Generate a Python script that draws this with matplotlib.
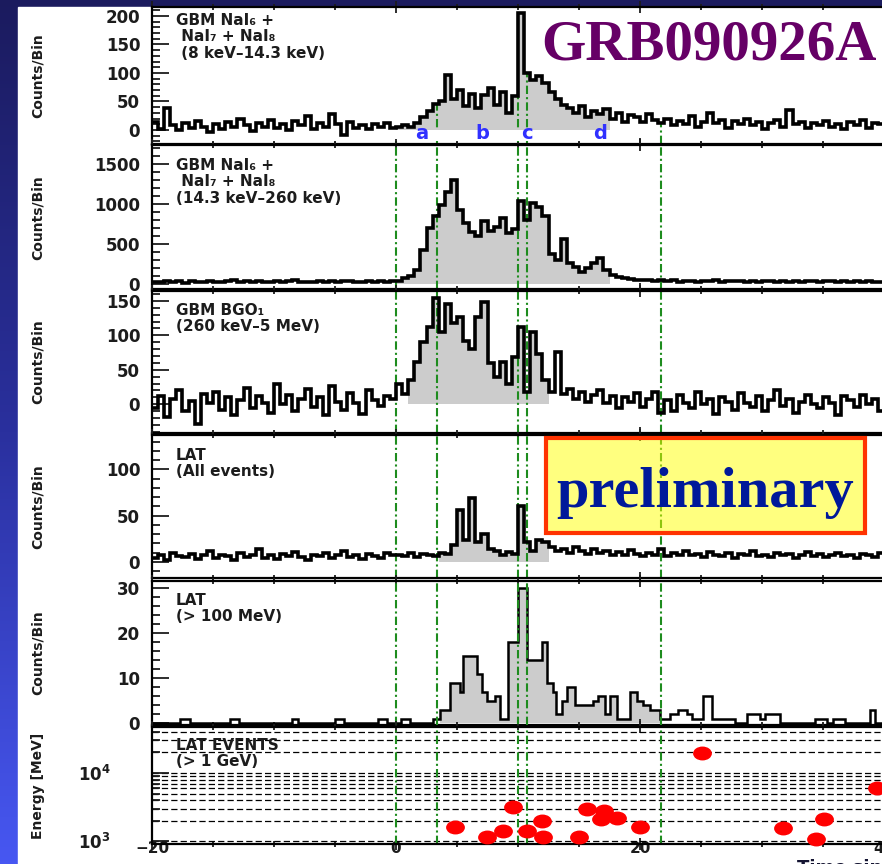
"""GRB090926A: GBM + LAT light curves, slide-style recreation."""
import numpy as np
import matplotlib
matplotlib.use("Agg")
import matplotlib.pyplot as plt
from matplotlib.colors import LinearSegmentedColormap
from matplotlib.patches import Rectangle
from matplotlib.path import Path
from matplotlib.ticker import MultipleLocator, LogLocator, NullFormatter
from matplotlib.transforms import Affine2D

# ----------------------------------------------------------- data
# GBM / LAT-all light curves: regular 0.5 s bins starting at -20 s
bin_start, bin_width = -20.0, 0.5

nai_lo = [  # NaI 8-14.3 keV
    14, 2, 38, 8, 0, 12, 4, 16, 6, -4, 10, 2, 14, 5, 20, 8, -2, 12, 6, 18,
    4, 10, 0, 16, 8, 24, 2, 12, 6, 28, 10, -8, 14, 4, 8, 2, 10, 6, 12, 4,
    5, 8, 6, 12, 22, 34, 45, 50, 96, 55, 70, 42, 64, 38, 62, 74, 44, 66, 30, 60,
    205, 100, 88, 95, 82, 66, 55, 44, 38, 30, 42, 22, 34, 28, 36, 20, 30, 14, 26, 22,
    14, 28, 18, 12,
    20, 8, 16, 10, 24, 6, 14, 30, 12, 18, 4, 16, 10, 20, 8, 14, 2, 12, 18, 6,
    35, 10, 14, 4, 12, 8, 16, 6, 10, 2, 14, 8, 18, 4, 12, 10, 16,
]
nai_hi = [  # NaI 14.3-260 keV
    30, 22, 38, 26, 34, 18, 40, 28, 24, 36, 30, 20, 32, 44, 26, 34, 22, 38, 28, 30,
    36, 24, 32, 48, 26, 30, 20, 34, 28, 40, 24, 32, 36, 22, 30, 38, 26, 34, 28, 32,
    40, 80, 95, 180, 420, 700, 850, 990, 1150, 1300,
    930, 760, 650, 600, 790, 660, 720, 830, 640, 690,
    1040, 800, 1010, 960, 850, 380, 300, 560, 260, 210,
    150, 200, 260, 320, 180, 110, 90, 70, 60, 55,
    48, 52, 40, 44,
    38, 46, 30, 42, 36, 28, 40, 34, 44, 26, 36, 32, 40, 28, 38, 30, 34, 42, 26, 36,
    30, 38, 24, 34, 40, 28, 32, 36, 26, 38, 30, 34, 28, 40, 30, 26, 34,
]
bgo = [  # BGO 260 keV-5 MeV
    -5, 12, -18, 8, 20, -10, 5, -28, 15, 2, 18, -8, 10, -15, 6, 24, -6, 12, 2, -12,
    30, 0, 14, -10, 8, 22, -4, 10, -16, 26, 4, -8, 16, 2, -14, 20, 6, -2, 12, 8,
    30, 15, 35, 62, 90, 112, 154, 105, 146, 118,
    127, 92, 80, 127, 148, 60, 40, 62, 30, 68,
    112, 18, 105, 73, 35, 18, 76, 15, 22, 8,
    18, 4, 14, 20, 2, 12, -6, 10, 4, 16,
    -4, 8, 18, -12,
    6, -10, 14, 2, -6, 18, 0, 8, -14, 10, 4, -8, 16, 2, -4, 12, -10, 6, 20, -2,
    8, -12, 4, 14, 0, -6, 10, 2, -16, 12, 6, -4, 14, 0, 8, -10, 4,
]
lat_all = [  # LAT, all events
    4, 8, 2, 10, 6, 5, 9, 3, 7, 12, 4, 8, 6, 2, 10, 5, 8, 14, 4, 7,
    3, 9, 6, 11, 5, 2, 8, 6, 10, 4, 7, 12, 5, 8, 3, 9, 6, 4, 10, 7,
    8, 6, 10, 5, 9, 7, 6, 10, 9, 18,
    56, 24, 69, 22, 30, 14, 12, 8, 11, 9,
    60, 22, 12, 24, 22, 16, 12, 14, 10, 16,
    12, 9, 14, 10, 12, 8, 11, 7, 13, 9,
    6, 10, 8, 14,
    6, 10, 8, 12, 7, 9, 5, 11, 8, 6, 10, 4, 9, 7, 12, 6, 8, 5, 10, 7,
    9, 4, 8, 11, 6, 9, 5, 7, 10, 6, 8, 4, 9, 7, 5, 10, 8,
]

# LAT > 100 MeV histogram (irregular bins)
lat_hi_edges = [
    -20, -17.7, -16.9, -13.6, -12.9, -8.5, -8.0, -5.0, -4.3, -1.5,
    -0.7, 0.4, 1.15, 3.0, 3.6, 4.43, 5.25, 5.46, 6.61, 7.02,
    7.43, 8.11, 8.52, 9.21, 10.03, 10.71, 11.94, 12.35, 12.9, 13.1,
    13.6, 14.0, 14.67, 16.17, 16.58, 17.13, 17.54, 18.09, 19.18, 19.78,
    20.27, 20.82, 21.64, 22.46, 23.14, 23.83, 24.25, 25.14, 25.87, 27.79,
    28.74, 29.84, 30.25, 31.48, 34.34, 35.3, 35.85, 36.8, 38.85, 39.26, 41.0,
]
lat_hi_counts = [
    0, 1, 0, 1, 0, 1, 0, 1, 0, 1,
    0, 1, 0, 1, 3, 9, 7, 15, 11, 7,
    5, 6, 1, 18, 30, 14, 18, 9, 7, 2,
    5, 8, 4, 5, 6, 2, 6, 1, 7, 5,
    4, 3, 1, 2, 3, 2, 1, 6, 1, 0,
    2, 1, 2, 0, 1, 0, 1, 0, 3, 0,
]

# LAT events > 1 GeV
ev_time = [4.84, 7.49, 8.8, 9.56, 10.71, 11.94, 12.08, 15.03, 15.63, 17.05,
           16.78, 18.09, 20.0, 25.1, 31.75, 34.4, 35.1, 39.4]
ev_energy = [1600, 1170, 1415, 3210, 1415, 1980, 1170, 1170, 2940, 2800,
             2100, 2220, 1600, 19400, 1550, 1070, 2120, 6100]

# time intervals a-d and shaded (burst) windows per panel
interval_edges = [0.0, 3.4, 10.0, 10.7, 21.7]
interval_names = ["a", "b", "c", "d"]
interval_label_t = [2.1, 7.1, 10.7, 16.7]
fill_windows = [(0.0, 17.5), (0.0, 17.5), (1.0, 12.5), (3.5, 12.5), (3.6, 21.7)]

panel_text = [
    "GBM NaI\u2086 +\n NaI\u2087 + NaI\u2088\n (8 keV\u201314.3 keV)",
    "GBM NaI\u2086 +\n NaI\u2087 + NaI\u2088\n(14.3 keV\u2013260 keV)",
    "GBM BGO\u2081\n(260 keV\u20135 MeV)",
    "LAT\n(All events)",
    "LAT\n(> 100 MeV)",
    "LAT EVENTS\n(> 1 GeV)",
]
panel_text_top = [13, 158, 303, 448, 593, 738]

# ----------------------------------------------------------- layout
W, H = 882, 864
X0_PX, PX_PER_S = 152, 12.2
XLIM = (-20, 41)
panels_px = [(7, 144), (145.5, 289), (290.7, 433.3), (435, 577.7), (580.5, 725), (727, 844)]
ylims = [(-24.6, 215.8), (-62.7, 1736), (-42.1, 164.8), (-17.0, 137.1), (-0.44, 31.7), (913, 47100)]
ymajor = [50, 500, 50, 50, 10]
yminor = [10, 100, 10, 10, 2]

GREEN = "#1e8c1e"
GRAY = "#cccccc"
INK = "#1c1c1c"
DASHDOT = (0, (4, 1.5, 1, 1.5))

plt.rcParams["font.family"] = ["DejaVu Sans"]
plt.rcParams["font.weight"] = "bold"
plt.rcParams["mathtext.default"] = "regular"

fig = plt.figure(figsize=(W / 100, H / 100), dpi=100)

# slide background: blue gradient with a white sheet
bg = fig.add_axes([0, 0, 1, 1], zorder=-10)
cmap = LinearSegmentedColormap.from_list("slide", ["#1b1b5e", "#2a309e", "#4757f2"])
bg.imshow(np.linspace(0, 1, 256).reshape(-1, 1), cmap=cmap, aspect="auto",
          extent=[0, 1, 0, 1], origin="upper")
bg.add_patch(Rectangle((18 / W, 0), 1, 1 - 7 / H, color="white"))
bg.set_xlim(0, 1); bg.set_ylim(0, 1); bg.axis("off")


def fig_xy(x, y):
    return x / W, 1 - y / H


axes = []
for (ytop, ybot) in panels_px:
    ax = fig.add_axes([X0_PX / W, 1 - ybot / H, (XLIM[1] - XLIM[0]) * PX_PER_S / W,
                       (ybot - ytop) / H])
    ax.set_xlim(*XLIM)
    for s in ax.spines.values():
        s.set_linewidth(1.6)
    ax.xaxis.set_major_locator(MultipleLocator(20))
    ax.xaxis.set_minor_locator(MultipleLocator(5))
    ax.tick_params(axis="x", which="both", direction="inout", top=True, bottom=True,
                   labelbottom=False, width=1.3, colors=INK)
    ax.tick_params(axis="x", which="major", length=8)
    ax.tick_params(axis="x", which="minor", length=5)
    ax.tick_params(axis="y", which="both", direction="in", left=True, right=False,
                   width=1.3, labelsize=12, pad=8.5, colors=INK)
    ax.tick_params(axis="y", which="major", length=12)
    ax.tick_params(axis="y", which="minor", length=6)
    axes.append(ax)

# ---- binned light curves (panels 1-4)
curves = [nai_lo, nai_hi, bgo, lat_all]
for i, vals in enumerate(curves):
    ax = axes[i]
    vals = np.asarray(vals, dtype=float)
    edges = bin_start + bin_width * np.arange(len(vals) + 1)
    centres = 0.5 * (edges[:-1] + edges[1:])
    lo, hi = fill_windows[i]
    shade = np.where((centres > lo) & (centres < hi), np.clip(vals, 0, None), 0)
    ax.stairs(shade, edges, fill=True, color=GRAY, lw=0, zorder=1)
    ax.stairs(vals, edges, baseline=None, color="black", lw=2.6, zorder=3)
    ax.set_ylim(*ylims[i])
    ax.yaxis.set_major_locator(MultipleLocator(ymajor[i]))
    ax.yaxis.set_minor_locator(MultipleLocator(yminor[i]))
    ax.set_yticks([v for v in ax.get_yticks() if 0 <= v <= ylims[i][1]])
    ax.set_ylim(*ylims[i])

    if i == 0:
        # intervals: lines rise to the light curve, letters on a white strip
        for b in interval_edges:
            k = int(round((b - bin_start) / bin_width - 1e-6))
            top = min(vals[k - 1], vals[k])
            ax.vlines(b, ylims[0][0], top, colors=GREEN, lw=1.5,
                      linestyles=DASHDOT, zorder=2.5)
        ax.fill_between([lo - 0.2, hi], ylims[0][0] + 6, 0.5, color="white", lw=0, zorder=3.5)
        for name, tx in zip(interval_names, interval_label_t):
            ax.text(tx, -6, name, color="#3030ff", fontsize=14, ha="center",
                    va="center", zorder=4)
    else:
        for b in interval_edges:
            ax.axvline(b, color=GREEN, lw=1.5, ls=DASHDOT, zorder=2.5)

# ---- LAT > 100 MeV histogram (panel 5)
ax = axes[4]
e = np.asarray(lat_hi_edges)
c = np.asarray(lat_hi_counts, dtype=float)
lo, hi = fill_windows[4]
inside = (e[:-1] >= lo - 1e-6) & (e[1:] <= hi + 1e-6)
ax.stairs(np.where(inside, c, 0), e, fill=True, color=GRAY, lw=0, zorder=1)
ax.stairs(c, e, baseline=None, color="black", lw=1.8, zorder=3)
for b in interval_edges:
    ax.axvline(b, color=GREEN, lw=1.5, ls=DASHDOT, zorder=3.5)
ax.set_ylim(*ylims[4])
ax.yaxis.set_major_locator(MultipleLocator(ymajor[4]))
ax.yaxis.set_minor_locator(MultipleLocator(yminor[4]))

# ---- LAT events > 1 GeV (panel 6)
ax = axes[5]
ax.set_yscale("log")
ax.set_ylim(*ylims[5])
ax.yaxis.set_major_locator(LogLocator(base=10, subs=(1.0,)))
ax.yaxis.set_minor_locator(LogLocator(base=10, subs=np.arange(2, 10)))
ax.yaxis.set_minor_formatter(NullFormatter())
ax.set_yticks([1e3, 1e4])
ax.set_yticklabels(["10$^3$", "10$^4$"])
ax.tick_params(axis="y", which="major", pad=30)
ax.grid(True, which="both", axis="y", color="black", lw=0.9, ls=(0, (5, 2.5)))
ax.set_axisbelow(True)
for b in interval_edges:
    ax.axvline(b, color=GREEN, lw=1.5, ls=DASHDOT, zorder=2.5)
ellipse = Path.unit_circle().transformed(Affine2D().scale(1.0, 0.72))
ax.plot(ev_time, ev_energy, ls="none", marker=ellipse, ms=12.5, color="#ff0000",
        mec="#ff0000", zorder=4, clip_on=False)
ax.tick_params(axis="x", which="major", labelbottom=True, labelsize=11, pad=-6)

# ---- texts
for txt, ytop in zip(panel_text, panel_text_top):
    fig.text(*fig_xy(176, ytop), txt, fontsize=11, color=INK, ha="left", va="top",
             linespacing=1.12)

for k, (ytop, ybot) in enumerate(panels_px):
    label = "Energy [MeV]" if k == 5 else "Counts/Bin"
    fig.text(38 / W, 1 - 0.5 * (ytop + ybot) / H, label, rotation=90,
             fontsize=10, color=INK, ha="center", va="center")

fig.text(*fig_xy(797, 859), "Time since trigger [s]", fontsize=13, color="#141432",
         ha="left", va="top")

# slide overlays
fig.text(*fig_xy(877, 60), "GRB090926A", family="Liberation Serif", weight="bold",
         fontsize=41, color="#660066", ha="right", va="baseline")
fig.add_artist(Rectangle(fig_xy(545.7, 533.3), (865 - 545.7) / W, 95 / H,
                         transform=fig.transFigure, facecolor=(1, 1, 0, 0.5),
                         edgecolor="#ff3300", lw=3, zorder=20))
fig.text(*fig_xy(705, 507), "preliminary", family="Liberation Serif", weight="bold",
         fontsize=42, color="#00199a", ha="center", va="baseline", zorder=21)

fig.savefig("out.png", dpi=100)
